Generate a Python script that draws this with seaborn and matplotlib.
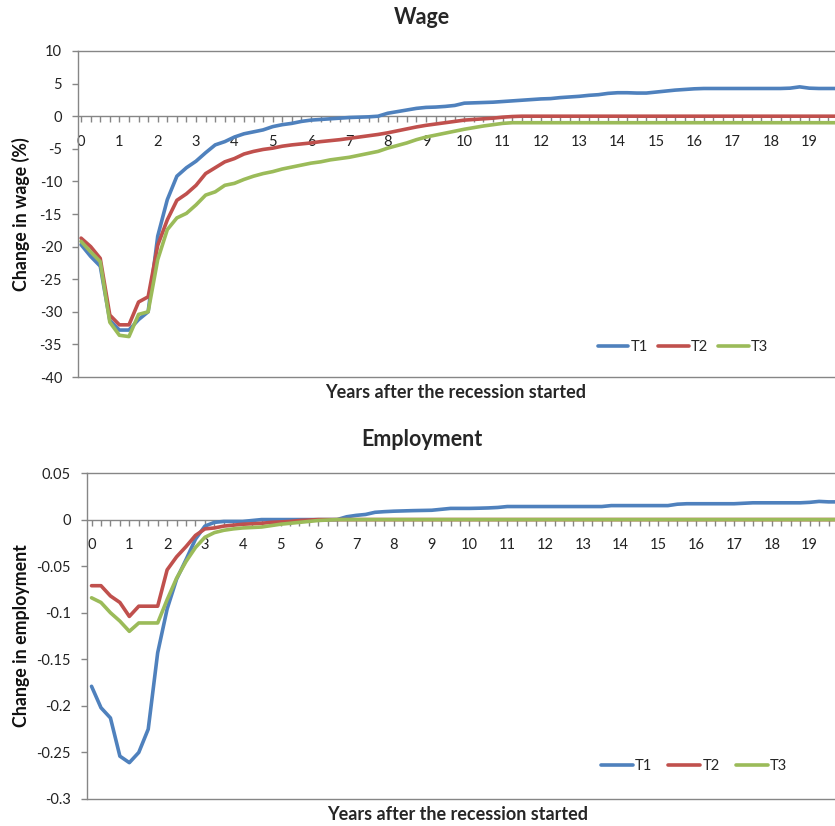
import numpy as np
import pandas as pd
import matplotlib
matplotlib.use("Agg")
import matplotlib.pyplot as plt
import seaborn as sns

# ---------------- data (quarterly, years 0 .. 19.75) ----------------
years = [q / 4 for q in range(80)]

wage_t1 = [-19.7, -21.5, -23.0, -31.3, -32.8, -32.8, -31.2, -30.0, -18.4, -12.8,
           -9.2, -7.9, -6.9, -5.6, -4.4, -3.9, -3.2, -2.7, -2.4, -2.1,
           -1.6, -1.3, -1.1, -0.8, -0.6, -0.5, -0.4, -0.3, -0.2, -0.15,
           -0.1, 0.0, 0.45, 0.7, 0.95, 1.2, 1.35, 1.4, 1.5, 1.65,
           2.0, 2.05, 2.1, 2.15, 2.25, 2.35, 2.45, 2.55, 2.65, 2.7,
           2.85, 2.95, 3.05, 3.2, 3.3, 3.5, 3.6, 3.6, 3.55, 3.55,
           3.7, 3.85, 4.0, 4.1, 4.2, 4.25, 4.25, 4.25, 4.25, 4.25,
           4.25, 4.25, 4.25, 4.25, 4.3, 4.5, 4.3, 4.25, 4.25, 4.25]
wage_t2 = [-18.7, -20.0, -21.8, -30.5, -32.0, -32.0, -28.5, -27.7, -19.8, -15.9,
           -12.9, -11.9, -10.6, -8.8, -7.9, -7.0, -6.5, -5.8, -5.4, -5.1,
           -4.9, -4.6, -4.4, -4.25, -4.1, -3.9, -3.75, -3.6, -3.4, -3.2,
           -3.0, -2.8, -2.55, -2.25, -1.95, -1.65, -1.4, -1.2, -1.0, -0.8,
           -0.6, -0.5, -0.4, -0.3, -0.15, -0.05, 0.0, 0.0, 0.0, 0.0,
           0.0, 0.0, 0.0, 0.0, 0.0, 0.0, 0.0, 0.0, 0.0, 0.0,
           0.0, 0.0, 0.0, 0.0, 0.0, 0.0, 0.0, 0.0, 0.0, 0.0,
           0.0, 0.0, 0.0, 0.0, 0.0, 0.0, 0.0, 0.0, 0.0, 0.0]
wage_t3 = [-19.2, -20.8, -22.3, -31.6, -33.6, -33.8, -30.4, -30.0, -22.0, -17.4,
           -15.6, -14.9, -13.6, -12.1, -11.6, -10.6, -10.3, -9.7, -9.2, -8.8,
           -8.5, -8.1, -7.8, -7.5, -7.2, -7.0, -6.7, -6.5, -6.3, -6.0,
           -5.7, -5.4, -4.9, -4.5, -4.1, -3.6, -3.2, -2.9, -2.6, -2.3,
           -2.0, -1.75, -1.5, -1.3, -1.1, -1.0, -1.0, -1.0, -1.0, -1.0,
           -1.0, -1.0, -1.0, -1.0, -1.0, -1.0, -1.0, -1.0, -1.0, -1.0,
           -1.0, -1.0, -1.0, -1.0, -1.0, -1.0, -1.0, -1.0, -1.0, -1.0,
           -1.0, -1.0, -1.0, -1.0, -1.0, -1.0, -1.0, -1.0, -1.0, -1.0]

emp_t1 = [-0.179, -0.202, -0.213, -0.254, -0.261, -0.250, -0.225, -0.143, -0.096, -0.064,
          -0.043, -0.021, -0.007, -0.003, -0.002, -0.002, -0.002, -0.001, 0.0, 0.0,
          0.0, 0.0, 0.0, 0.0, 0.0, 0.0, 0.0, 0.003, 0.0045, 0.0055,
          0.0078, 0.0085, 0.009, 0.0093, 0.0096, 0.0098, 0.010, 0.011, 0.012, 0.012,
          0.012, 0.0122, 0.0125, 0.013, 0.014, 0.014, 0.014, 0.014, 0.014, 0.014,
          0.014, 0.014, 0.014, 0.014, 0.014, 0.015, 0.015, 0.015, 0.015, 0.015,
          0.015, 0.015, 0.0165, 0.017, 0.017, 0.017, 0.017, 0.017, 0.017, 0.0175,
          0.018, 0.018, 0.018, 0.018, 0.018, 0.018, 0.0185, 0.0195, 0.019, 0.019]
emp_t2 = [-0.071, -0.071, -0.082, -0.089, -0.104, -0.093, -0.093, -0.093, -0.054, -0.040,
          -0.029, -0.017, -0.010, -0.009, -0.007, -0.006, -0.005, -0.0045, -0.004, -0.003,
          -0.0025, -0.002, -0.001, -0.0005, 0.0, 0.0, 0.0, 0.0, 0.0, 0.0,
          0.0, 0.0, 0.0, 0.0, 0.0, 0.0, 0.0, 0.0, 0.0, 0.0,
          0.0, 0.0, 0.0, 0.0, 0.0, 0.0, 0.0, 0.0, 0.0, 0.0,
          0.0, 0.0, 0.0, 0.0, 0.0, 0.0, 0.0, 0.0, 0.0, 0.0,
          0.0, 0.0, 0.0, 0.0, 0.0, 0.0, 0.0, 0.0, 0.0, 0.0,
          0.0, 0.0, 0.0, 0.0, 0.0, 0.0, 0.0, 0.0, 0.0, 0.0]
emp_t3 = [-0.084, -0.089, -0.100, -0.109, -0.120, -0.111, -0.111, -0.111, -0.086, -0.063,
          -0.045, -0.030, -0.019, -0.014, -0.0115, -0.010, -0.009, -0.0085, -0.008, -0.0065,
          -0.005, -0.004, -0.003, -0.002, -0.001, -0.0005, 0.0, 0.0, 0.0, 0.0,
          0.0, 0.0, 0.0, 0.0, 0.0, 0.0, 0.0, 0.0, 0.0, 0.0,
          0.0, 0.0, 0.0, 0.0, 0.0, 0.0, 0.0, 0.0, 0.0, 0.0,
          0.0, 0.0, 0.0, 0.0, 0.0, 0.0, 0.0, 0.0, 0.0, 0.0,
          0.0, 0.0, 0.0, 0.0, 0.0, 0.0, 0.0, 0.0, 0.0, 0.0,
          0.0, 0.0, 0.0, 0.0, 0.0, 0.0, 0.0, 0.0, 0.0, 0.0]

series_names = ["T1", "T2", "T3"]
x_ticks = list(range(20))
x_tick_labels = [str(v) for v in x_ticks]
wage_yticks = [10, 5, 0, -5, -10, -15, -20, -25, -30, -35, -40]
wage_ytick_labels = ["10", "5", "0", "-5", "-10", "-15", "-20", "-25", "-30", "-35", "-40"]
emp_yticks = [0.05, 0, -0.05, -0.1, -0.15, -0.2, -0.25, -0.3]
emp_ytick_labels = ["0.05", "0", "-0.05", "-0.1", "-0.15", "-0.2", "-0.25", "-0.3"]

# ---------------- style ----------------
sns.set_style("white")
plt.rcParams["font.family"] = ["Lato", "DejaVu Sans"]
plt.rcParams["axes.unicode_minus"] = False

palette = {"T1": "#4F81BD", "T2": "#C0504D", "T3": "#9BBB59"}
GRAY = "#868686"

W, H = 835, 826
fig = plt.figure(figsize=(W / 100, H / 100), dpi=100)


def long_df(vals):
    frames = []
    for name, v in zip(series_names, vals):
        frames.append(pd.DataFrame({"year": years, "value": v, "series": name}))
    return pd.concat(frames, ignore_index=True)


def make_panel(rect, df, ylim, yticks, yticklabels, xlim, ylabel, ylabel_x,
               legend_anchor, colspacing, handlelen):
    ax = fig.add_axes(rect)
    sns.lineplot(data=df, x="year", y="value", hue="series", palette=palette,
                 linewidth=2.6, ax=ax, legend=True)
    ax.set_xlim(*xlim)
    ax.set_ylim(*ylim)
    ax.set_yticks(yticks)
    ax.set_yticklabels(yticklabels)
    ax.set_xticks(x_ticks)
    ax.set_xticklabels(x_tick_labels)
    ax.set_xticks([q / 4 for q in range(80)], minor=True)
    for s in ["left", "top", "bottom"]:
        ax.spines[s].set_color(GRAY)
        ax.spines[s].set_linewidth(1.0)
    ax.spines["right"].set_visible(False)
    ax.spines["bottom"].set_position(("data", 0))
    ax.spines["bottom"].set_zorder(1)
    ax.axhline(ylim[0], color=GRAY, linewidth=1.0, clip_on=False, zorder=1)
    ax.tick_params(axis="y", which="major", direction="out", length=4.5, width=1,
                   color=GRAY, labelsize=10.5, labelcolor="#222222", pad=7, left=True)
    ax.tick_params(axis="x", which="both", direction="out", length=4, width=1,
                   color=GRAY, bottom=True)
    ax.tick_params(axis="x", which="major", labelsize=10.5, labelcolor="#222222", pad=9.5)
    ax.set_xlabel("")
    ax.set_ylabel(ylabel, fontsize=12.8, fontweight="bold", color="#111111")
    ax.yaxis.set_label_coords(ylabel_x, 0.5)
    ax.grid(False)
    leg = ax.legend(loc="center", bbox_to_anchor=legend_anchor, bbox_transform=fig.transFigure,
                    ncol=3, frameon=False, fontsize=10.5, handlelength=handlelen,
                    handletextpad=0.15, columnspacing=colspacing)
    for line in leg.get_lines():
        line.set_linewidth(2.6)
    return ax


wage_df = long_df([wage_t1, wage_t2, wage_t3])
emp_df = long_df([emp_t1, emp_t2, emp_t3])

ax1 = make_panel([78 / W, 1 - 377 / H, (838 - 78) / W, 326 / H], wage_df, (-40, 10),
                 wage_yticks, wage_ytick_labels, (-0.08, 19.6), "Change in wage (%)",
                 (30 - 78) / 760, (683 / W, 1 - 347 / H), 0.7, 2.1)
ax2 = make_panel([87 / W, 1 - 799 / H, (838 - 87) / W, 326 / H], emp_df, (-0.3, 0.05),
                 emp_yticks, emp_ytick_labels, (-0.12, 19.55), "Change in employment",
                 (30 - 87) / 751, (694 / W, 1 - 766 / H), 1.1, 2.2)

fig.text(422 / W, 1 - 18 / H, "Wage", ha="center", va="center", fontsize=15.5, fontweight="bold")
fig.text(422 / W, 1 - 440 / H, "Employment", ha="center", va="center", fontsize=15.5, fontweight="bold")
fig.text(456 / W, 1 - 392 / H, "Years after the recession started", ha="center", va="center",
         fontsize=13, fontweight="bold")
fig.text(458 / W, 1 - 815 / H, "Years after the recession started", ha="center", va="center",
         fontsize=13, fontweight="bold")

fig.savefig("out.png", dpi=100)
